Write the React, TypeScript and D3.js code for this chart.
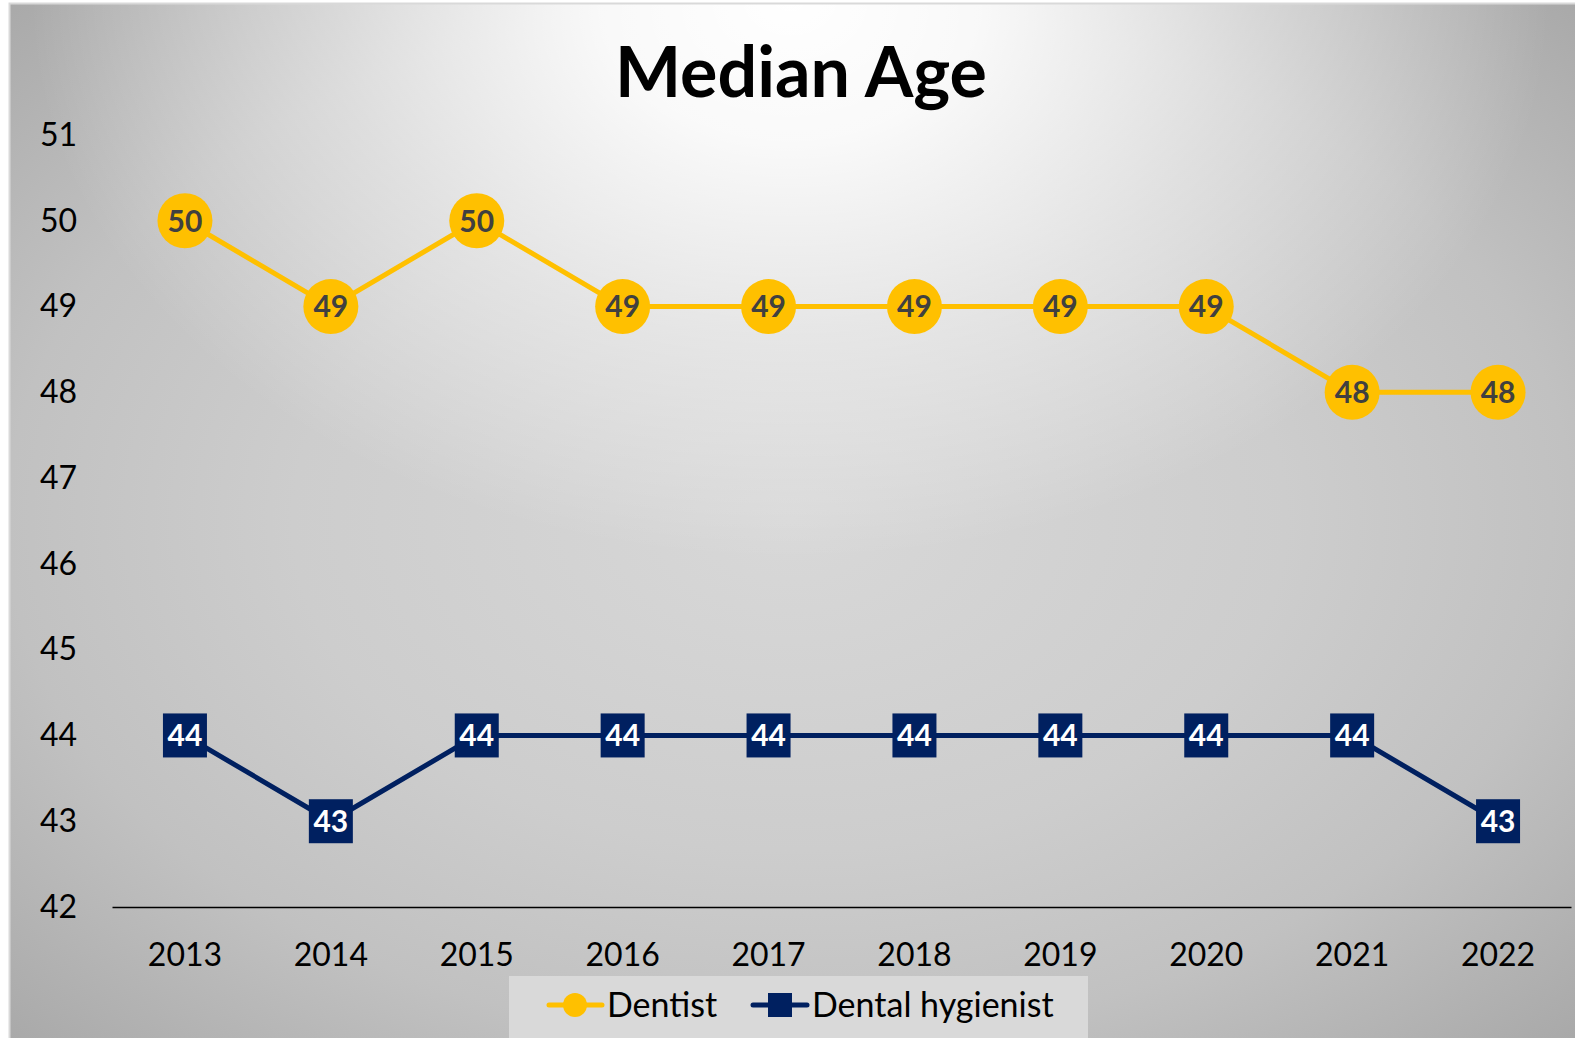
import React, { useRef, useEffect } from 'react';
import * as d3 from 'd3';

const years = ['2013', '2014', '2015', '2016', '2017', '2018', '2019', '2020', '2021', '2022'];
const dentist = [50, 49, 50, 49, 49, 49, 49, 49, 48, 48];
const hygienist = [44, 43, 44, 44, 44, 44, 44, 44, 44, 43];
const yTicks = [42, 43, 44, 45, 46, 47, 48, 49, 50, 51];

const FONT = 'Lato, "Open Sans", sans-serif';

const App = () => {
  const svgRef = useRef<SVGSVGElement>(null);

  useEffect(() => {
    const svg = d3.select(svgRef.current);
    svg.selectAll('*').remove();

    const width = 1575;
    const height = 1038;

    // background: grey radial base + white glow behind the title
    const defs = svg.append('defs');
    const base = defs.append('radialGradient')
      .attr('id', 'bgBase')
      .attr('gradientUnits', 'userSpaceOnUse')
      .attr('cx', 0).attr('cy', 0).attr('r', 1)
      .attr('gradientTransform', 'translate(790,520) scale(1103,735)');
    [[0, '#d8d8d8'], [0.45, '#cdcdcd'], [0.71, '#c1c1c1'], [1, '#a9a9a9']]
      .forEach(([o, c]) => base.append('stop').attr('offset', o as number).attr('stop-color', c as string));

    const glow = defs.append('radialGradient')
      .attr('id', 'bgGlow')
      .attr('gradientUnits', 'userSpaceOnUse')
      .attr('cx', 0).attr('cy', 0).attr('r', 1)
      .attr('gradientTransform', 'translate(790,0) scale(760,560)');
    [[0, 1], [0.25, 0.9], [0.6, 0.45], [1, 0]]
      .forEach(([o, a]) => glow.append('stop').attr('offset', o).attr('stop-color', '#ffffff').attr('stop-opacity', a));

    svg.append('rect')
      .attr('x', 0).attr('y', 0).attr('width', width).attr('height', height)
      .attr('fill', '#ffffff');
    svg.append('rect')
      .attr('x', 9.5).attr('y', 3.5).attr('width', width + 10).attr('height', height + 10)
      .attr('fill', 'url(#bgBase)');
    svg.append('rect')
      .attr('x', 9.5).attr('y', 3.5).attr('width', width + 10).attr('height', height + 10)
      .attr('fill', 'url(#bgGlow)')
      .attr('stroke', '#d9d9d9')
      .attr('stroke-width', 2);

    const x = d3.scaleBand().domain(years).range([112, 1571]);
    const y = d3.scaleLinear().domain([42, 51]).range([907, 135]);
    const cx = (d: string) => (x(d) as number) + x.bandwidth() / 2;

    // title
    svg.append('text')
      .attr('x', 801).attr('y', 97)
      .attr('text-anchor', 'middle')
      .style('font-family', FONT)
      .style('font-size', '70px')
      .style('font-weight', 'bold')
      .attr('fill', '#000')
      .text('Median Age');

    // y axis labels
    const yAxis = svg.append('g')
      .attr('transform', 'translate(77,0)')
      .call(d3.axisLeft(y).tickValues(yTicks).tickSize(0).tickPadding(0));
    yAxis.select('.domain').remove();
    yAxis.selectAll('text')
      .style('font-family', FONT)
      .style('font-size', '32px')
      .attr('fill', '#000');

    // x axis
    const xAxis = svg.append('g')
      .attr('transform', 'translate(0,907)')
      .call(d3.axisBottom(x).tickSize(0).tickPadding(36));
    xAxis.select('.domain').attr('stroke', '#000').attr('stroke-width', 1.5);
    xAxis.selectAll('text')
      .style('font-family', FONT)
      .style('font-size', '32px')
      .attr('fill', '#000');

    const line = d3.line<number>()
      .x((_, i) => cx(years[i]))
      .y((d) => y(d));

    // dentist series
    svg.append('path')
      .datum(dentist)
      .attr('fill', 'none')
      .attr('stroke', '#FFC000')
      .attr('stroke-width', 5)
      .attr('stroke-linejoin', 'round')
      .attr('d', line);
    const dg = svg.append('g').selectAll('g').data(dentist).enter().append('g')
      .attr('transform', (d, i) => `translate(${cx(years[i])},${y(d)})`);
    dg.append('circle').attr('r', 27.5).attr('fill', '#FFC000');
    dg.append('text')
      .attr('text-anchor', 'middle')
      .attr('dy', '0.36em')
      .style('font-family', FONT)
      .style('font-size', '30px')
      .style('font-weight', 'bold')
      .attr('fill', '#404040')
      .text((d) => d);

    // hygienist series
    svg.append('path')
      .datum(hygienist)
      .attr('fill', 'none')
      .attr('stroke', '#002060')
      .attr('stroke-width', 5)
      .attr('stroke-linejoin', 'round')
      .attr('d', line);
    const hg = svg.append('g').selectAll('g').data(hygienist).enter().append('g')
      .attr('transform', (d, i) => `translate(${cx(years[i])},${y(d)})`);
    hg.append('rect')
      .attr('x', -22).attr('y', -22).attr('width', 44).attr('height', 44)
      .attr('fill', '#002060');
    hg.append('text')
      .attr('text-anchor', 'middle')
      .attr('dy', '0.36em')
      .style('font-family', FONT)
      .style('font-size', '30px')
      .style('font-weight', 'bold')
      .attr('fill', '#ffffff')
      .text((d) => d);

    // legend
    const lg = svg.append('g');
    lg.append('rect')
      .attr('x', 509).attr('y', 976).attr('width', 579).attr('height', 70)
      .attr('fill', '#d9d9d9');
    lg.append('line')
      .attr('x1', 549).attr('x2', 602).attr('y1', 1005).attr('y2', 1005)
      .attr('stroke', '#FFC000').attr('stroke-width', 5).attr('stroke-linecap', 'round');
    lg.append('circle').attr('cx', 575).attr('cy', 1005).attr('r', 12).attr('fill', '#FFC000');
    lg.append('text')
      .attr('x', 607).attr('y', 1005).attr('dy', '0.36em')
      .style('font-family', FONT).style('font-size', '34px')
      .attr('fill', '#000')
      .text('Dentist');
    lg.append('line')
      .attr('x1', 753).attr('x2', 807).attr('y1', 1005).attr('y2', 1005)
      .attr('stroke', '#002060').attr('stroke-width', 5).attr('stroke-linecap', 'round');
    lg.append('rect').attr('x', 768).attr('y', 993).attr('width', 24).attr('height', 24).attr('fill', '#002060');
    lg.append('text')
      .attr('x', 812).attr('y', 1005).attr('dy', '0.36em')
      .style('font-family', FONT).style('font-size', '34px')
      .attr('fill', '#000')
      .text('Dental hygienist');
  }, []);

  return (
    <svg
      ref={svgRef}
      width={1575}
      height={1038}
      style={{ position: 'absolute', left: 0, top: 0, display: 'block' }}
    />
  );
};

export default App;
